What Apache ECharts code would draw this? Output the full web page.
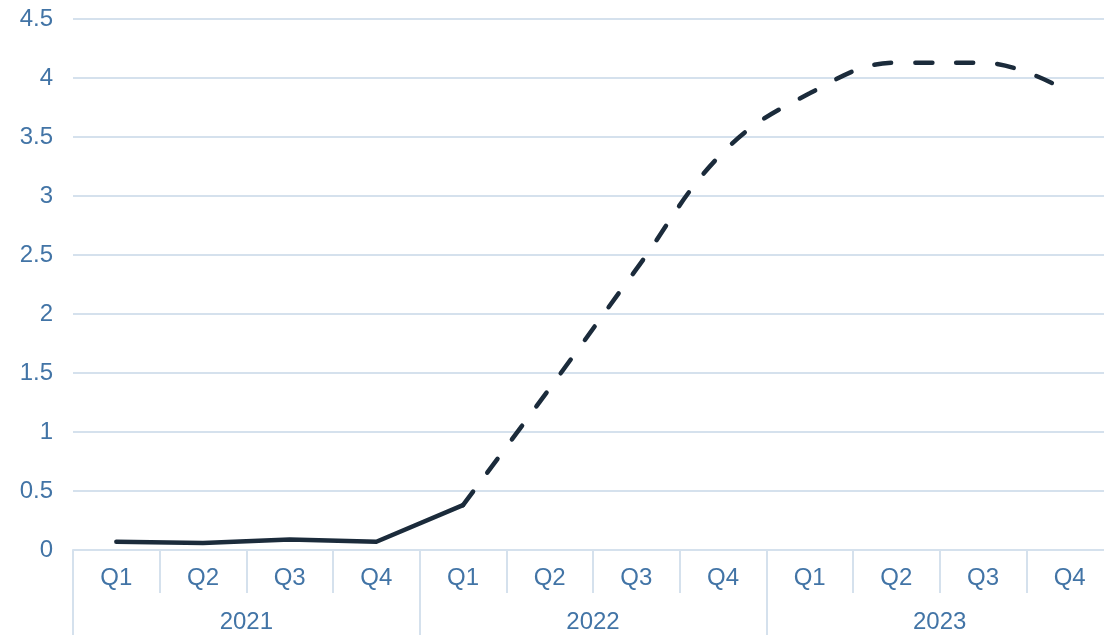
<!DOCTYPE html>
<html>
<head>
<meta charset="utf-8">
<script src="https://cdn.jsdelivr.net/npm/echarts@6/dist/echarts.min.js"></script>
<style>
html,body{margin:0;padding:0;background:#fff;}
#chart{width:1104px;height:635px;}
</style>
</head>
<body>
<div id="chart"></div>
<script>
var quarters = ['Q1','Q2','Q3','Q4','Q1','Q2','Q3','Q4','Q1','Q2','Q3','Q4'];
var years = ['2021','2022','2023'];
// actual values (solid) and projection (dashed)
var actual = [0.07, 0.06, 0.09, 0.07, 0.38, null, null, null, null, null, null, null];
var projected = [null, null, null, null, 0.38, 1.37, 2.38, 3.37, 3.87, 4.13, 4.13, 3.88];

var textColor = '#4274a6';
var gridColor = '#d5e1ed';
var lineColor = '#1b2b3b';
var font = 'Liberation Sans';

var myChart = echarts.init(document.getElementById('chart'));
var option = {
	animation: false,
	grid: { left: 73, top: 19, width: 1040, height: 531, outerBoundsMode: 'none' },
	xAxis: [{
		type: 'category',
		data: quarters,
		axisLine: { lineStyle: { color: gridColor, width: 2 } },
		axisTick: { show: true, interval: 0, length: 43, lineStyle: { color: gridColor, width: 2 } },
		axisLabel: { interval: 0, margin: 16, color: textColor, fontSize: 24, fontFamily: font }
	}, {
		type: 'category',
		data: years,
		position: 'bottom',
		axisLine: { show: false },
		axisTick: { show: true, interval: 0, length: 90, lineStyle: { color: gridColor, width: 2 } },
		axisLabel: { interval: 0, margin: 60, color: textColor, fontSize: 24, fontFamily: font }
	}],
	yAxis: {
		type: 'value',
		min: 0,
		max: 4.5,
		interval: 0.5,
		axisLine: { show: false },
		axisTick: { show: false },
		splitLine: { lineStyle: { color: gridColor, width: 2 } },
		axisLabel: { margin: 20, color: textColor, fontSize: 24, fontFamily: font }
	},
	series: [{
		type: 'line',
		data: actual,
		xAxisIndex: 0,
		showSymbol: false,
		lineStyle: { color: lineColor, width: 4.5, cap: 'round', join: 'round' }
	}, {
		type: 'line',
		data: projected,
		xAxisIndex: 0,
		smooth: 0.4,
		showSymbol: false,
		lineStyle: { color: lineColor, width: 4.5, type: [17, 24], cap: 'round' }
	}]
};
myChart.setOption(option);
</script>
</body>
</html>
